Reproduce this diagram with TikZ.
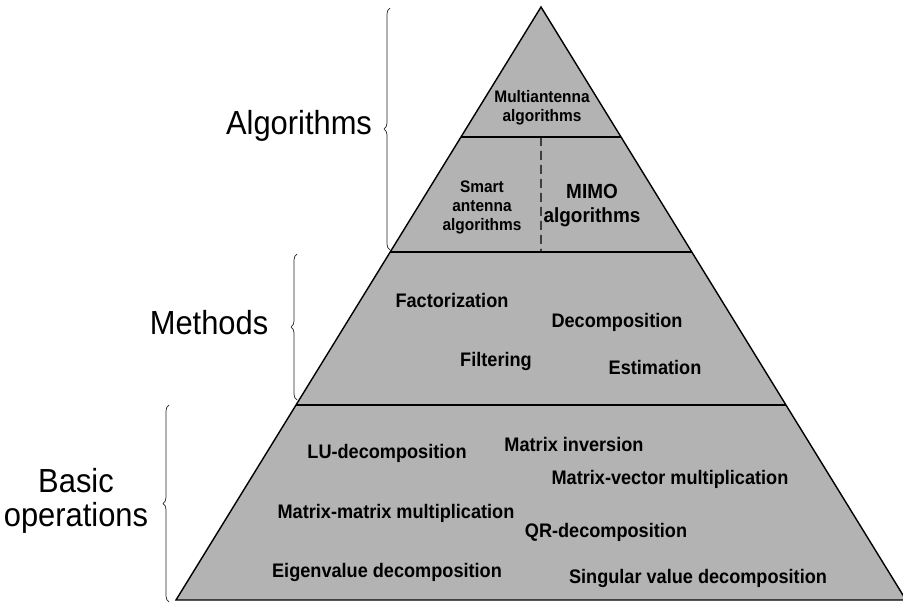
\documentclass[tikz,border=0pt]{standalone}
\usepackage{fontspec}
\setmainfont{Liberation Sans}
\usepackage{graphicx}
\usepackage{tikz}
\usetikzlibrary{calc}
\usetikzlibrary{decorations.pathreplacing}
\definecolor{pyrgray}{RGB}{179,179,179}
\newcommand{\tallt}[1]{\scalebox{1}[1.08]{#1}}
\newcommand{\tallc}[1]{\scalebox{1}[1.08]{\begin{tabular}{@{}c@{}}#1\end{tabular}}}
\tikzset{
  item/.style={font=\fontsize{18.2}{22}\selectfont\bfseries, anchor=base, inner sep=0pt},
  smallitem/.style={font=\fontsize{15.5}{17.5}\selectfont\bfseries, inner sep=0pt},
  bigitem/.style={font=\fontsize{19}{22}\selectfont\bfseries, inner sep=0pt},
  level/.style={font=\fontsize{31}{30}\selectfont, inner sep=0pt},
  lbrace/.style={decorate, decoration={brace, amplitude=6bp}, line width=0.7bp, draw=black!85},
}

\begin{document}
\begin{tikzpicture}[x=1bp,y=-1bp]
\useasboundingbox (0,0) rectangle (903,605);

\coordinate (apex) at (541,7);
\coordinate (bl) at (176,600);
\coordinate (br) at (906,600);

\draw[fill=pyrgray, line width=1.4bp, line join=miter] (apex) -- (bl) -- (br) -- cycle;

\coordinate (l1) at ($(apex)!0.2192!(bl)$);
\coordinate (r1) at ($(apex)!0.2192!(br)$);
\coordinate (l2) at ($(apex)!0.4132!(bl)$);
\coordinate (r2) at ($(apex)!0.4132!(br)$);
\coordinate (l3) at ($(apex)!0.6712!(bl)$);
\coordinate (r3) at ($(apex)!0.6712!(br)$);
\draw[line width=1.4bp] (l1) -- (r1);
\draw[line width=1.4bp] (l2) -- (r2);
\draw[line width=1.4bp] (l3) -- (r3);
\draw[line width=1.3bp, dash pattern=on 9bp off 5bp] ($(l1)!0.5!(r1)$) -- ($(l2)!0.5!(r2)$);

% top layer
\node[smallitem] (multi) at (542,108) {\tallc{Multiantenna\\algorithms}};
\node[smallitem] (smart) at (482,208) {\tallc{Smart\\antenna\\algorithms}};
\node[bigitem] (mimo) at (592,206) {\tallc{MIMO\\algorithms}};

% methods
\node[item] (fact) at (452,307) {\tallt{Factorization}};
\node[item] (decomp) at (617,327) {\tallt{Decomposition}};
\node[item] (filt) at (496,366) {\tallt{Filtering}};
\node[item] (estim) at (655,374) {\tallt{Estimation}};

% basic operations
\node[item] (lu) at (387,458) {\tallt{LU-decomposition}};
\node[item] (inv) at (574,451) {\tallt{Matrix inversion}};
\node[item] (mvm) at (670,484) {\tallt{Matrix-vector multiplication}};
\node[item] (mmm) at (396,518) {\tallt{Matrix-matrix multiplication}};
\node[item] (qr) at (606,537) {\tallt{QR-decomposition}};
\node[item] (eig) at (387,577) {\tallt{Eigenvalue decomposition}};
\node[item] (svd) at (698,583) {\tallt{Singular value decomposition}};

% levels
\coordinate (algtop) at (390,8);
\coordinate (algbot) at (390,250);
\coordinate (mettop) at (297,254);
\coordinate (metbot) at (297,400);
\coordinate (bastop) at (169,405);
\coordinate (basbot) at (169,602);
\draw[lbrace] (algbot) -- (algtop);
\draw[lbrace] (metbot) -- (mettop);
\draw[lbrace] (basbot) -- (bastop);

\node[level, anchor=base] (alg) at (299,135) {\tallt{Algorithms}};
\node[level, anchor=base] (met) at (209,334) {\tallt{Methods}};
\node[level] (bas) at (76,502) {\tallc{Basic\\operations}};

\end{tikzpicture}
\end{document}
